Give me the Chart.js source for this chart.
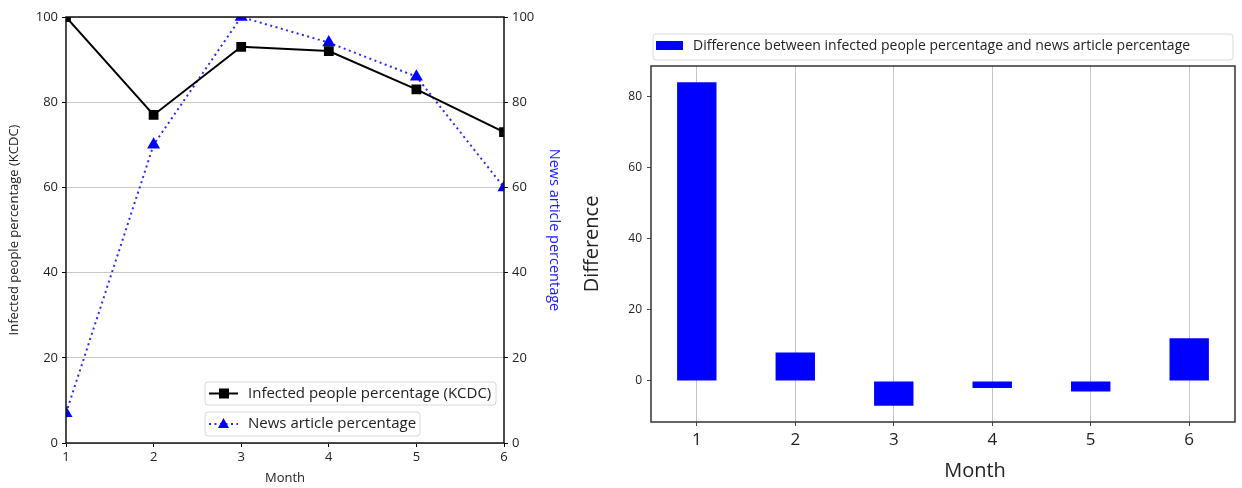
<!DOCTYPE html>
<html>
<head>
<meta charset="utf-8">
<script src="https://cdn.jsdelivr.net/npm/chart.js@4.4.1/dist/chart.umd.min.js"></script>
<style>
  html, body { margin: 0; padding: 0; background: #fff; }
  #wrap { position: relative; width: 1242px; height: 488px; }
  #c1 { position: absolute; left: 0; top: 0; }
  #c2 { position: absolute; left: 580px; top: 0; }
</style>
</head>
<body>
<div id="wrap">
  <canvas id="c1" width="575" height="488"></canvas>
  <canvas id="c2" width="662" height="488"></canvas>
</div>
<script>
// ---- data ----
const months = [1, 2, 3, 4, 5, 6];
const infectedPct = [100, 77, 93, 92, 83, 73];
const newsPct = [7, 70, 100, 94, 86, 60];
const difference = [84, 8, -7, -2, -3, 12];
const pctTicks = [0, 20, 40, 60, 80, 100];
const diffTicks = [0, 20, 40, 60, 80];
const infectedLabel = 'Infected people percentage (KCDC)';
const newsLabel = 'News article percentage';
const diffLabel = 'Difference between infected people percentage and news article percentage';

const FONT = "'Open Sans', 'DejaVu Sans', sans-serif";
Chart.defaults.font.family = FONT;
Chart.defaults.color = '#222';
Chart.defaults.animation = false;

const BLUE = '#0000ff';
const NEWSBLUE = '#2a2aff';

function frame(color, lw) {
  return {
    id: 'frame',
    afterDatasetsDraw(chart) {
      const a = chart.chartArea, ctx = chart.ctx;
      ctx.save();
      ctx.strokeStyle = color; ctx.lineWidth = lw;
      ctx.strokeRect(a.left, a.top, a.right - a.left, a.bottom - a.top);
      ctx.restore();
    }
  };
}

function roundBox(ctx, x, y, w, h, r) {
  ctx.beginPath();
  ctx.moveTo(x + r, y);
  ctx.lineTo(x + w - r, y); ctx.quadraticCurveTo(x + w, y, x + w, y + r);
  ctx.lineTo(x + w, y + h - r); ctx.quadraticCurveTo(x + w, y + h, x + w - r, y + h);
  ctx.lineTo(x + r, y + h); ctx.quadraticCurveTo(x, y + h, x, y + h - r);
  ctx.lineTo(x, y + r); ctx.quadraticCurveTo(x, y, x + r, y);
  ctx.closePath();
}

// legend for left chart (two separate boxes, as in the reference)
const leftLegend = {
  id: 'leftLegend',
  afterDraw(chart) {
    const ctx = chart.ctx;
    const items = [
      { box: [205, 382, 291, 23], text: infectedLabel, ds: chart.data.datasets[0] },
      { box: [205, 412, 215, 24], text: newsLabel, ds: chart.data.datasets[1] }
    ];
    ctx.save();
    items.forEach(it => {
      const [x, y, w, h] = it.box;
      roundBox(ctx, x, y, w, h, 3);
      ctx.fillStyle = 'rgba(255,255,255,0.85)';
      ctx.fill();
      ctx.strokeStyle = '#d8d8d8'; ctx.lineWidth = 1; ctx.stroke();
      const cy = y + h / 2;
      ctx.strokeStyle = it.ds.borderColor;
      ctx.lineWidth = it.ds.borderWidth;
      ctx.setLineDash(it.ds.borderDash || []);
      ctx.beginPath(); ctx.moveTo(209, cy); ctx.lineTo(238, cy); ctx.stroke();
      ctx.setLineDash([]);
      ctx.fillStyle = it.ds.pointBackgroundColor;
      if (it.ds.pointStyle === 'rect') {
        ctx.fillRect(219, cy - 5, 10, 10);
      } else {
        ctx.beginPath(); ctx.moveTo(223.5, cy - 6); ctx.lineTo(229, cy + 4); ctx.lineTo(218, cy + 4); ctx.closePath(); ctx.fill();
      }
      ctx.fillStyle = '#222';
      ctx.font = '15px ' + FONT;
      ctx.textBaseline = 'middle';
      ctx.fillText(it.text, 248, cy);
    });
    ctx.restore();
  }
};

new Chart(document.getElementById('c1'), {
  type: 'line',
  data: {
    datasets: [
      {
        label: infectedLabel,
        data: months.map((m, i) => ({ x: m, y: infectedPct[i] })),
        yAxisID: 'y',
        borderColor: '#000', backgroundColor: '#000',
        pointBackgroundColor: '#000', pointBorderColor: '#000',
        borderWidth: 2, pointStyle: 'rect', pointRadius: 5.5, tension: 0
      },
      {
        label: newsLabel,
        data: months.map((m, i) => ({ x: m, y: newsPct[i] })),
        yAxisID: 'y1',
        borderColor: NEWSBLUE, backgroundColor: BLUE,
        pointBackgroundColor: BLUE, pointBorderColor: BLUE,
        borderWidth: 2, borderDash: [2, 3.5], pointStyle: 'triangle', pointRadius: 5.5, tension: 0
      }
    ]
  },
  options: {
    responsive: false,
    layout: { padding: { top: 17, left: 0, right: 0, bottom: 0 } },
    plugins: { legend: { display: false }, tooltip: { enabled: false } },
    scales: {
      x: {
        type: 'linear', min: 1, max: 6,
        afterBuildTicks: s => { s.ticks = months.map(v => ({ value: v })); },
        afterFit: s => { s.height = 45; },
        grid: { drawOnChartArea: false, tickLength: 4, tickColor: '#000' },
        border: { display: false },
        ticks: { font: { size: 13 }, padding: 2, color: '#222' },
        title: { display: true, text: 'Month', font: { size: 13 }, color: '#222', padding: { top: 0, bottom: 2 } }
      },
      y: {
        position: 'left', min: 0, max: 100,
        afterBuildTicks: s => { s.ticks = pctTicks.map(v => ({ value: v })); },
        afterFit: s => { s.width = 66; },
        grid: { color: '#c8c8c8', lineWidth: 1, tickLength: 4, tickColor: '#000' },
        border: { display: false },
        ticks: { font: { size: 13 }, padding: 4, color: '#222' },
        title: { display: true, text: 'Infected people percentage (KCDC)', font: { size: 13 }, color: '#222', padding: { top: 6, bottom: 0 } }
      },
      y1: {
        position: 'right', min: 0, max: 100,
        afterBuildTicks: s => { s.ticks = pctTicks.map(v => ({ value: v })); },
        afterFit: s => { s.width = 71; },
        grid: { drawOnChartArea: false, tickLength: 4, tickColor: '#000' },
        border: { display: false },
        ticks: { font: { size: 13 }, padding: 4, color: '#222' },
        title: { display: true, text: 'News article percentage', font: { size: 14.5 }, color: '#1a1aff', padding: { top: 12, bottom: 0 } }
      }
    }
  },
  plugins: [frame('#111', 1.5), leftLegend]
});

// right chart legend (boxed, above plot) and x title
const rightLegend = {
  id: 'rightLegend',
  afterDraw(chart) {
    const ctx = chart.ctx;
    const ox = 580;
    ctx.save();
    roundBox(ctx, 653 - ox, 34, 580, 26, 3);
    ctx.fillStyle = 'rgba(255,255,255,0.85)'; ctx.fill();
    ctx.strokeStyle = '#dadada'; ctx.lineWidth = 1; ctx.stroke();
    ctx.fillStyle = chart.data.datasets[0].backgroundColor;
    ctx.fillRect(656 - ox, 41, 27, 9);
    ctx.fillStyle = '#222';
    ctx.font = '14px ' + FONT;
    ctx.textBaseline = 'middle';
    ctx.fillText(diffLabel, 693 - ox, 46);
    // x-axis title
    ctx.font = '20px ' + FONT;
    ctx.textAlign = 'center';
    ctx.fillText('Month', 975 - ox, 471);
    ctx.restore();
  }
};

new Chart(document.getElementById('c2'), {
  type: 'bar',
  data: {
    datasets: [{
      label: diffLabel,
      data: months.map((m, i) => ({ x: m, y: difference[i] })),
      backgroundColor: BLUE, borderWidth: 0,
      barPercentage: 0.4, categoryPercentage: 1
    }]
  },
  options: {
    responsive: false,
    layout: { padding: { top: 66, left: 0, right: 7, bottom: 0 } },
    plugins: { legend: { display: false }, tooltip: { enabled: false } },
    scales: {
      x: {
        type: 'linear', min: 0.535, max: 6.465, offset: false, z: 1,
        afterBuildTicks: s => { s.ticks = months.map(v => ({ value: v })); },
        afterFit: s => { s.height = 66; },
        grid: { offset: false, color: 'rgba(175,175,175,0.75)', lineWidth: 1, tickLength: 4, tickColor: '#444' },
        border: { display: false },
        ticks: { font: { size: 17 }, padding: 4, color: '#222' },
        title: { display: false }
      },
      y: {
        min: -11.55, max: 88.55,
        afterBuildTicks: s => { s.ticks = diffTicks.map(v => ({ value: v })); },
        afterFit: s => { s.width = 71; },
        grid: { drawOnChartArea: false, tickLength: 4, tickColor: '#444' },
        border: { display: false },
        ticks: { font: { size: 12 }, padding: 5, color: '#222' },
        title: { display: true, text: 'Difference', font: { size: 20 }, color: '#222', padding: { top: 0, bottom: 0 } }
      }
    }
  },
  plugins: [frame('#333', 1.5), rightLegend]
});
</script>
</body>
</html>
